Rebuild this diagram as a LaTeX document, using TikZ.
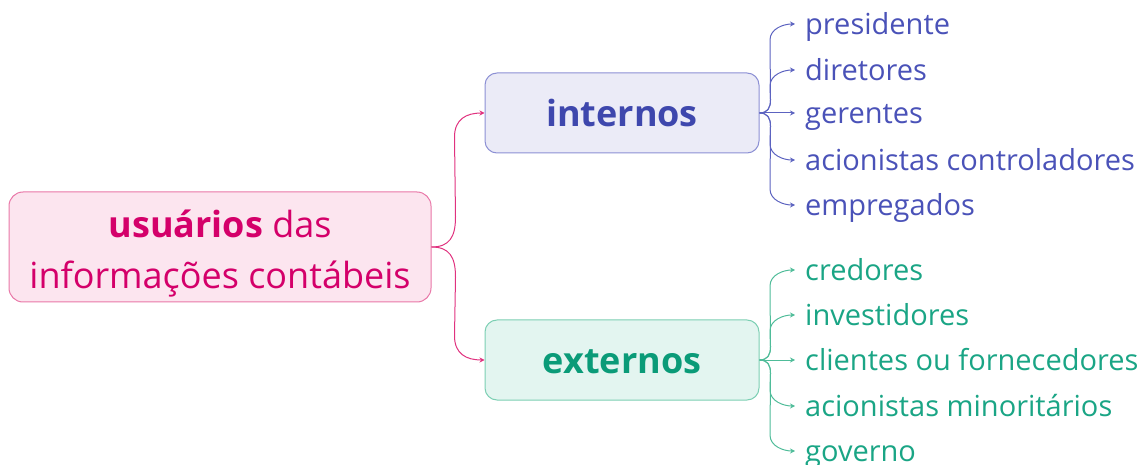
\documentclass[tikz,border=0pt]{standalone}
\usepackage{fontspec}
\setmainfont{Open Sans}
\usetikzlibrary{arrows.meta,calc}
\definecolor{rootfill}{HTML}{FCE5EF}
\definecolor{rootdraw}{HTML}{E978A8}
\definecolor{roottext}{HTML}{D4006A}
\definecolor{rootline}{HTML}{E0327F}
\definecolor{intfill}{HTML}{EBEBF7}
\definecolor{intdraw}{HTML}{8C90D4}
\definecolor{inttext}{HTML}{3E47AD}
\definecolor{intline}{HTML}{5C63C0}
\definecolor{intleaf}{HTML}{4A52B8}
\definecolor{extfill}{HTML}{E3F5F0}
\definecolor{extdraw}{HTML}{7CCFB3}
\definecolor{exttext}{HTML}{0A9B78}
\definecolor{extline}{HTML}{4FBC99}
\definecolor{extleaf}{HTML}{1AA585}
\tikzset{
  rootbox/.style={draw=rootdraw, fill=rootfill, line width=1pt, rounded corners=14pt,
    minimum width=422pt, minimum height=110pt, inner sep=0pt, align=center,
    text=roottext, font=\fontsize{36}{51}\selectfont, text height=83pt, text depth=0pt},
  midbox/.style={line width=1pt, rounded corners=12pt, minimum width=274pt, minimum height=80pt,
    inner sep=0pt, font=\fontsize{36}{40}\selectfont\bfseries, text height=27.5pt, text depth=0pt},
  intbox/.style={midbox, draw=intdraw, fill=intfill, text=inttext},
  extbox/.style={midbox, draw=extdraw, fill=extfill, text=exttext},
  leaf/.style={anchor=west, inner xsep=10pt, inner ysep=0pt, text height=21pt, text depth=0pt,
    font=\fontsize{29}{32}\selectfont},
  intleafnode/.style={leaf, text=intleaf},
  extleafnode/.style={leaf, text=extleaf},
  tip/.style={-{Stealth[length=5pt,width=5pt]}, line width=1pt},
  rootlink/.style={tip, draw=rootline},
  intlink/.style={tip, draw=intline},
  extlink/.style={tip, draw=extline},
}
\newcommand\uplink[3]{\draw[#3] (#1.east) .. controls +(8,0) and +(0,-8) .. ++(11,13) -- ($(#2.west)+(-25,-16)$) .. controls +(0,11) and +(-12,0) .. (#2.west);}
\newcommand\downlink[3]{\draw[#3] (#1.east) .. controls +(8,0) and +(0,8) .. ++(11,-13) -- ($(#2.west)+(-25,16)$) .. controls +(0,-11) and +(-12,0) .. (#2.west);}
\begin{document}
\begin{tikzpicture}[x=1pt,y=1pt]
\useasboundingbox (0,0) rectangle (1141,464);
\node[rootbox] (root) at (220,217) {\textbf{usuários} das\\informações contábeis};
\node[intbox] (int) at (622,351) {internos};
\node[extbox] (ext) at (622,104) {externos};

\node[intleafnode] (i1) at (795,440) {presidente};
\node[intleafnode] (i2) at (795,394) {diretores};
\node[intleafnode] (i3) at (795,351) {gerentes};
\node[intleafnode] (i4) at (795,304) {acionistas controladores};
\node[intleafnode] (i5) at (795,259) {empregados};

\node[extleafnode] (e1) at (795,194) {credores};
\node[extleafnode] (e2) at (795,149) {investidores};
\node[extleafnode] (e3) at (795,104) {clientes ou fornecedores};
\node[extleafnode] (e4) at (795,58) {acionistas minoritários};
\node[extleafnode] (e5) at (795,13) {governo};

\draw[rootlink] (root.east) .. controls +(18,0) and +(0,-20) .. ++(24,30) -- ($(int.west)+(-30,-24)$) .. controls +(0,18) and +(-18,0) .. (int.west);
\draw[rootlink] (root.east) .. controls +(18,0) and +(0,20) .. ++(24,-30) -- ($(ext.west)+(-30,24)$) .. controls +(0,-18) and +(-18,0) .. (ext.west);

\uplink{int}{i1}{intlink}
\uplink{int}{i2}{intlink}
\draw[intlink] (int.east) -- (i3.west);
\downlink{int}{i4}{intlink}
\downlink{int}{i5}{intlink}

\uplink{ext}{e1}{extlink}
\uplink{ext}{e2}{extlink}
\draw[extlink] (ext.east) -- (e3.west);
\downlink{ext}{e4}{extlink}
\downlink{ext}{e5}{extlink}
\end{tikzpicture}
\end{document}
